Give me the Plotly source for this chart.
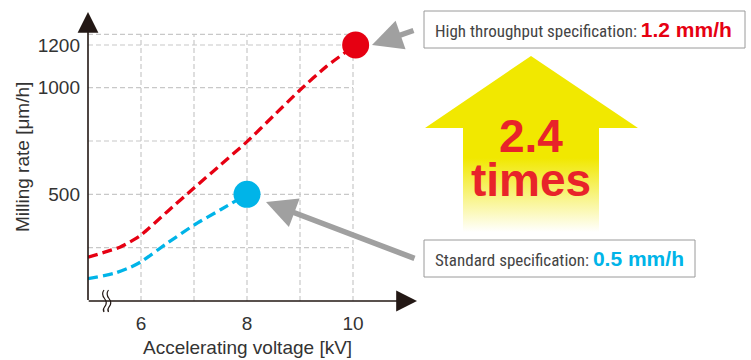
import plotly.graph_objects as go

# ---------------- data ----------------
high_x = [5, 5.3, 5.6, 5.85, 6, 6.5, 7, 7.5, 8, 8.5, 9, 9.5, 10.05]
high_y = [205, 228, 252, 285, 309, 420, 530, 638, 747, 868, 989, 1100, 1200]
std_x = [5, 5.5, 5.8, 6, 6.5, 7, 7.5, 8]
std_y = [105, 130, 158, 184, 272, 356, 428, 500]
high_point = (10.05, 1200)
std_point = (8, 500)

x_ticks = [6, 8, 10]
y_ticks = [500, 1000, 1200]
x_grid = [6, 7, 8, 9, 10]
y_grid = [250, 500, 750, 1000, 1200, 1250]

RED = "#e60012"
BLUE = "#00b4e8"
TXT = "#333333"
W, H = 751, 360

fig = go.Figure()

# main data lines
fig.add_trace(go.Scatter(x=high_x, y=high_y, mode="lines",
                         line=dict(color=RED, width=3.3, dash="10px,5px", shape="spline", smoothing=0.6),
                         xaxis="x", yaxis="y", hoverinfo="skip"))
fig.add_trace(go.Scatter(x=std_x, y=std_y, mode="lines",
                         line=dict(color=BLUE, width=3.3, dash="10px,5px", shape="spline", smoothing=0.6),
                         xaxis="x", yaxis="y", hoverinfo="skip"))
fig.add_trace(go.Scatter(x=[high_point[0]], y=[high_point[1]], mode="markers",
                         marker=dict(color=RED, size=27), xaxis="x", yaxis="y"))
fig.add_trace(go.Scatter(x=[std_point[0]], y=[std_point[1]], mode="markers",
                         marker=dict(color=BLUE, size=27), xaxis="x", yaxis="y"))

# yellow arrow (decoration, pixel overlay axes)
arrow_x = [425, 531, 638, 599, 599, 463, 463, 425]
arrow_y = [128, 56, 128, 128, 232, 232, 128, 128]
fig.add_trace(go.Scatter(x=arrow_x, y=arrow_y, mode="lines", fill="toself",
                         line=dict(width=0, color="rgba(0,0,0,0)"),
                         fillgradient=dict(type="vertical", start=232, stop=56,
                                           colorscale=[[0, "rgba(255,255,255,1)"],
                                                       [0.42, "#f1e800"],
                                                       [1, "#f1e800"]]),
                         xaxis="x2", yaxis="y2", hoverinfo="skip"))

shapes = []
# grid
for gx in x_grid:
    shapes.append(dict(type="line", xref="x", yref="y", x0=gx, x1=gx, y0=0, y1=max(y_grid),
                       line=dict(color="#c8c8c8", width=1.2, dash="5px,3px"), layer="below"))
for gy in y_grid:
    shapes.append(dict(type="line", xref="x", yref="y", x0=5, x1=max(x_grid), y0=gy, y1=gy,
                       line=dict(color="#c8c8c8", width=1.2, dash="5px,3px"), layer="below"))

# boxes
shapes.append(dict(type="rect", xref="x2", yref="y2", x0=424, x1=745, y0=11, y1=48,
                   line=dict(color="#9a9a9a", width=1), fillcolor="white"))
shapes.append(dict(type="rect", xref="x2", yref="y2", x0=424, x1=695, y0=240, y1=277,
                   line=dict(color="#9a9a9a", width=1), fillcolor="white"))
# axis break mark
for dx in (0, 4.5):
    shapes.append(dict(type="path", xref="x2", yref="y2",
                       path=f"M {104+dx} 290 Q {101+dx} 294 {104.5+dx} 298.5 Q {108+dx} 303 {104.5+dx} 307 Q {102.5+dx} 309.5 {104+dx} 312",
                       line=dict(color="#231815", width=1.2)))

annotations = []
# axes with arrowheads
annotations.append(dict(x=88, y=12, ax=88, ay=301.5, xref="x2", yref="y2", axref="x2", ayref="y2",
                        text="", showarrow=True, arrowhead=2, arrowsize=2.6, arrowwidth=1.6,
                        arrowcolor="#231815"))
annotations.append(dict(x=417, y=301, ax=87.2, ay=301, xref="x2", yref="y2", axref="x2", ayref="y2",
                        text="", showarrow=True, arrowhead=2, arrowsize=2.6, arrowwidth=1.6,
                        arrowcolor="#231815"))
# gray pointer arrows
annotations.append(dict(x=372, y=45, ax=415, ay=30, xref="x2", yref="y2", axref="x2", ayref="y2",
                        text="", showarrow=True, arrowhead=2, arrowsize=1.1, arrowwidth=5.5,
                        arrowcolor="#a0a0a0"))
annotations.append(dict(x=266, y=202, ax=416, ay=259, xref="x2", yref="y2", axref="x2", ayref="y2",
                        text="", showarrow=True, arrowhead=2, arrowsize=1.1, arrowwidth=5.5,
                        arrowcolor="#a0a0a0"))
# box texts
NARROW = "Liberation Sans Narrow, Arial Narrow, Roboto Condensed, Arial"
annotations.append(dict(x=433, y=29.5, xref="x2", yref="y2", xanchor="left", yanchor="middle",
                        showarrow=False,
                        text=f"High throughput specification: <b><span style='font-family:Arial;font-size:21px;color:{RED}'>1.2 mm/h</span></b>",
                        font=dict(family=NARROW, size=17, color="#444444")))
annotations.append(dict(x=433, y=258.5, xref="x2", yref="y2", xanchor="left", yanchor="middle",
                        showarrow=False,
                        text=f"Standard specification: <b><span style='font-family:Arial;font-size:21px;color:{BLUE}'>0.5 mm/h</span></b>",
                        font=dict(family=NARROW, size=17, color="#444444")))
# big text
annotations.append(dict(x=531, y=136, xref="x2", yref="y2", showarrow=False, text="<b>2.4</b>",
                        font=dict(family="Arial", size=46, color="#e8232a")))
annotations.append(dict(x=531, y=180, xref="x2", yref="y2", showarrow=False, text="<b>times</b>",
                        font=dict(family="Arial", size=46, color="#e8232a")))
# axis titles
annotations.append(dict(x=247, y=347, xref="x2", yref="y2", showarrow=False,
                        text="Accelerating voltage [kV]", font=dict(family="Arial", size=19, color=TXT)))
annotations.append(dict(x=22, y=157, xref="x2", yref="y2", showarrow=False, textangle=-90,
                        text="Milling rate [μm/h]", font=dict(family="Arial", size=19, color=TXT)))

x0px, x1px = 88, 413
ybot, ytop = 301, 15
fig.update_layout(
    width=W, height=H, margin=dict(l=0, r=0, t=0, b=0),
    paper_bgcolor="white", plot_bgcolor="rgba(0,0,0,0)", showlegend=False,
    xaxis=dict(domain=[x0px / W, x1px / W], range=[5, 5 + (x1px - x0px) / 53.0],
               showgrid=False, zeroline=False, showline=False, tickvals=x_ticks,
               ticks="", tickfont=dict(family="Arial", size=19, color=TXT), ticklabelstandoff=9,
               anchor="y", fixedrange=True),
    yaxis=dict(domain=[(H - ybot) / H, (H - ytop) / H], range=[0, (ybot - ytop) / (53.33 / 250)],
               showgrid=False, zeroline=False, showline=False, tickvals=y_ticks,
               ticks="", tickfont=dict(family="Arial", size=19, color=TXT), ticklabelstandoff=7,
               anchor="x", fixedrange=True),
    xaxis2=dict(domain=[0, 1], range=[0, W], visible=False, anchor="y2", fixedrange=True),
    yaxis2=dict(domain=[0, 1], range=[H, 0], visible=False, anchor="x2", fixedrange=True),
    shapes=shapes, annotations=annotations,
)

fig.write_html("out.html", config={"displayModeBar": False},
               post_script="document.body.style.margin='0';document.body.style.overflow='hidden';")
